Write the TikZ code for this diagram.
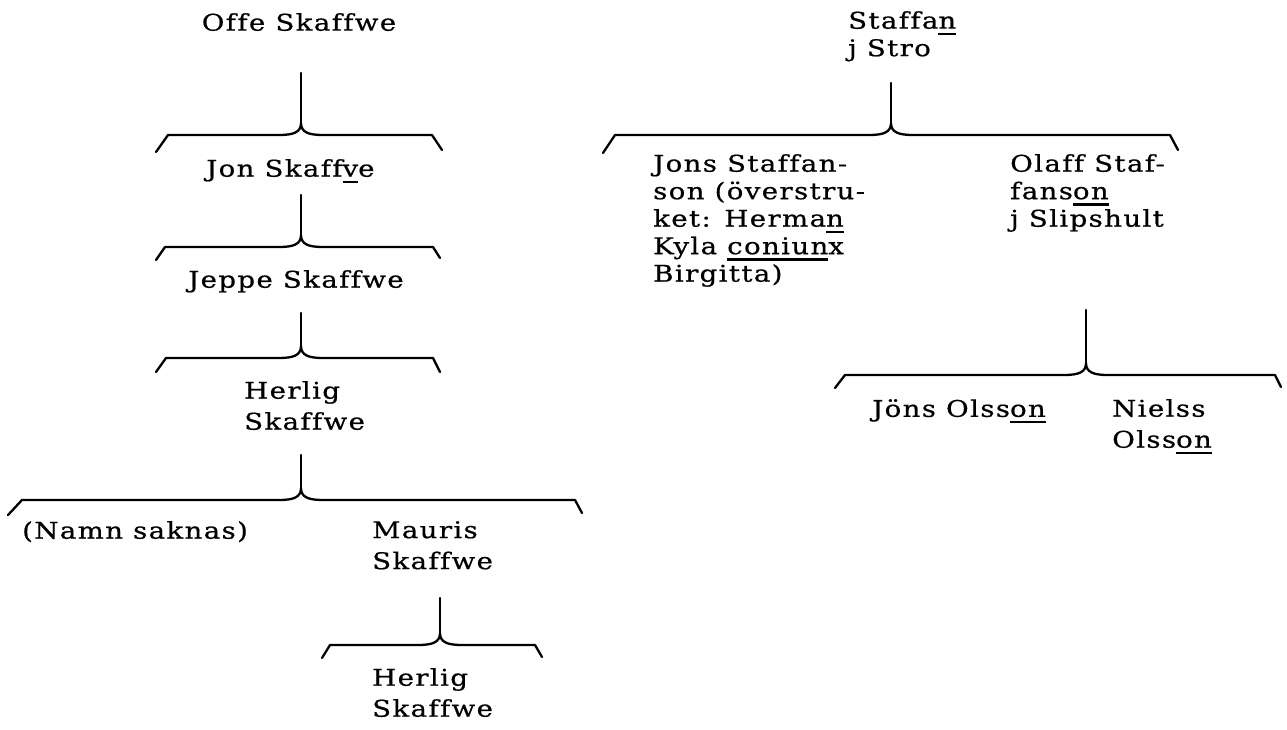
\documentclass[tikz,border=0pt]{standalone}
\usepackage{fontspec}
\setmainfont[FakeStretch=1.2,LetterSpace=6,Ligatures=NoCommon,FakeBold=0.6]{DejaVu Serif}
\newcommand\ubar[1]{\setbox0\hbox{#1}\rlap{\rule[-6.5pt]{\wd0}{2.3pt}}\box0}
\newcommand\fambrace[8]{%
 \coordinate (#1-top) at (#2,#3);
 \coordinate (#1-cusp) at (#2,#4-12);
 \coordinate (#1-l) at (#5,#4);
 \coordinate (#1-r) at (#6,#4);
 \coordinate (#1-le) at (#7);
 \coordinate (#1-re) at (#8);
 \draw[bracket] (#1-le) -- (#1-l) -- (#2-22,#4) .. controls (#2-7,#4) and (#2,#4-3) .. (#1-cusp)
   .. controls (#2,#4-3) and (#2+7,#4) .. (#2+22,#4) -- (#1-r) -- (#1-re);
 \draw[bracket] (#1-top) -- (#1-cusp);
}
\begin{document}
\begin{tikzpicture}[x=1pt,y=-1pt,
  bracket/.style={line width=2.3pt,line join=round,line cap=round},
  person/.style={inner sep=0pt,align=left,anchor=north west,font=\fontsize{23}{31}\selectfont},
  tight/.style={font=\fontsize{23}{27.5}\selectfont}]
\useasboundingbox (0,0) rectangle (1287,729);
% left tree
\node[person,anchor=north] (offe) at (299,13) {Offe Skaffwe};
\node[person] (jon) at (206,159) {Jon Skaff\ubar{v}e};
\node[person] (jeppe) at (188,270) {Jeppe Skaffwe};
\node[person] (herlig1) at (244,381) {Herlig\\Skaffwe};
\node[person] (namn) at (22,521) {(Namn saknas)};
\node[person] (mauris) at (372,521) {Mauris\\Skaffwe};
\node[person] (herlig2) at (372,668) {Herlig\\Skaffwe};
\fambrace{b1}{301}{73}{135}{168}{432}{156,152}{442,150}
\fambrace{b2}{301}{195}{247}{165}{433}{156,260}{440,258}
\fambrace{b3}{301}{313}{358}{166}{433}{156,372}{440,372}
\fambrace{b4}{301}{455}{500}{22}{575}{8,515}{582,513}
\fambrace{b5}{440}{598}{645}{330}{535}{322,658}{542,657}
% right tree
\node[person,tight] (staffan) at (848,11) {Staffa\ubar{n}\\j Stro};
\node[person,tight] (jons) at (653,154) {Jons Staffan-\\son (överstru-\\ket: Herma\ubar{n}\\Kyla \ubar{coniun}x\\Birgitta)};
\node[person,tight] (olaff) at (1010,154) {Olaff Staf-\\fans\ubar{on}\\j Slipshult};
\node[person] (jons2) at (872,399) {Jöns Olss\ubar{on}};
\node[person] (nielss) at (1112,399) {Nielss\\Olss\ubar{on}};
\fambrace{r1}{891}{83}{135}{615}{1170}{603,153}{1178,150}
\fambrace{r2}{1086}{310}{375}{845}{1275}{835,388}{1281,387}
\end{tikzpicture}
\end{document}
